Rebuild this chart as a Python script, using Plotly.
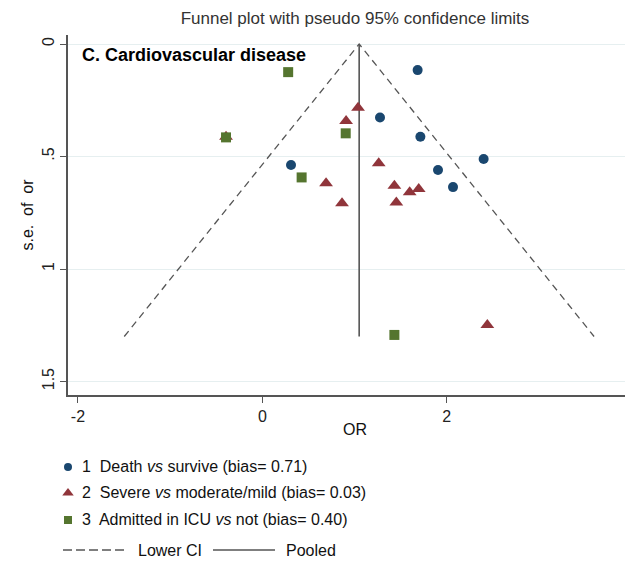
import plotly.graph_objects as go

# ---- data ----
death_or = [1.684, 1.276, 1.714, 2.40, 1.905, 2.068, 0.311]
death_se = [0.116, 0.327, 0.412, 0.511, 0.56, 0.636, 0.538]
severe_or = [1.038, 0.908, 1.262, 0.691, 0.864, 1.432, 1.598, 1.696, 1.453, 2.44, -0.394]
severe_se = [0.283, 0.342, 0.530, 0.619, 0.708, 0.63, 0.659, 0.644, 0.704, 1.249, 0.412]
icu_or = [0.28, 0.904, 0.426, 1.432, -0.394]
icu_se = [0.125, 0.397, 0.593, 1.293, 0.415]
pooled = 1.05
se_max = 1.3
x_ticks = [-2, 0, 2, 4]
x_tick_labels = ["-2", "0", "2", "4"]
y_ticks = [0, 0.5, 1, 1.5]
y_tick_labels = ["0", ".5", "1", "1.5"]
series_labels = ["1  Death <i>vs</i> survive (bias= 0.71)",
                 "2  Severe <i>vs</i> moderate/mild (bias= 0.03)",
                 "3  Admitted in ICU <i>vs</i> not (bias= 0.40)"]
line_labels = ["Lower CI", "Pooled"]

NAVY = "#1a476f"
MAROON = "#90353b"
GREEN = "#55752f"
GREY = "#555555"
FONT = "Liberation Sans Narrow, Arial Narrow, Liberation Sans, Arial"

W, H = 633, 568
OFF = 8                 # page body margin of the browser
TOP = 35 - OFF          # plot top (window px 35)
PH = H - TOP            # paper height (margin t only)


def px_x(p):            # window pixel -> paper x
    return (p - OFF) / W


def px_y(p):            # window pixel -> paper y
    return (H - (p - OFF)) / PH


PX_PER_UNIT = 92.2
X_LEFT = -2.108
X_RIGHT = X_LEFT + (W - (68 - OFF)) / PX_PER_UNIT

fig = go.Figure()

# funnel (pseudo 95% CI)
fig.add_trace(go.Scatter(
    x=[pooled - 1.96 * se_max, pooled, pooled + 1.96 * se_max],
    y=[se_max, 0, se_max],
    mode="lines", line=dict(color=GREY, width=1.3, dash="7px,5px"),
    showlegend=False, hoverinfo="skip"))
fig.add_trace(go.Scatter(
    x=[pooled, pooled], y=[0, se_max], mode="lines",
    line=dict(color=GREY, width=1.6), showlegend=False, hoverinfo="skip"))

styles = [("circle", 10, NAVY), ("triangle-up", 12, MAROON), ("square", 10, GREEN)]
for (xs, ys), (sym, sz, col) in zip(
        [(death_or, death_se), (severe_or, severe_se), (icu_or, icu_se)], styles):
    fig.add_trace(go.Scatter(
        x=xs, y=ys, mode="markers",
        marker=dict(symbol=sym, size=sz, color=col), showlegend=False))

# ---- hand-made legend on a hidden pixel-unit axis pair (window px) ----
legend_rows = [467, 493, 520]
for row, (sym, sz, col), lab in zip(legend_rows, styles, series_labels):
    fig.add_trace(go.Scatter(
        x=[68], y=[row], xaxis="x2", yaxis="y2", mode="markers",
        marker=dict(symbol=sym, size=sz - 2, color=col),
        showlegend=False, hoverinfo="skip"))
    fig.add_annotation(x=80, y=row, xref="x2", yref="y2", xanchor="left",
                       yanchor="middle", text=lab, showarrow=False,
                       font=dict(size=16, color="#111111"))
fig.add_trace(go.Scatter(x=[63, 128], y=[550, 550], xaxis="x2", yaxis="y2",
                         mode="lines", line=dict(color=GREY, width=1.3, dash="9px,4px"),
                         showlegend=False, hoverinfo="skip"))
fig.add_trace(go.Scatter(x=[213, 275], y=[550, 550], xaxis="x2", yaxis="y2",
                         mode="lines", line=dict(color=GREY, width=1.6),
                         showlegend=False, hoverinfo="skip"))
for xpos, lab in zip([136, 284], line_labels):
    fig.add_annotation(x=xpos, y=550, xref="x2", yref="y2", xanchor="left",
                       yanchor="middle", text=lab, showarrow=False,
                       font=dict(size=16, color="#111111"))

# panel label
fig.add_annotation(
    x=-1.98, y=0.05, xref="x", yref="y", xanchor="left", yanchor="middle",
    text="<b>C. Cardiovascular disease</b>", showarrow=False,
    font=dict(family="Liberation Sans, Arial", size=18, color="#000000"))

# x axis title
fig.add_annotation(x=px_x(355), y=px_y(440), xref="paper", yref="paper",
                   text="OR", showarrow=False, font=dict(size=16, color="#111111"))

fig.update_layout(
    width=W, height=H,
    paper_bgcolor="#ffffff", plot_bgcolor="#ffffff",
    margin=dict(l=0, r=0, t=TOP, b=0),
    font=dict(family=FONT, size=15, color="#222222"),
    title=dict(text="Funnel plot with pseudo 95% confidence limits",
               x=(355 - OFF) / W, xanchor="center", y=1 - (18 - OFF) / H,
               yanchor="middle",
               font=dict(family=FONT, size=17, color="#333333")),
    xaxis=dict(domain=[px_x(68), 1], range=[X_LEFT, X_RIGHT], tickvals=x_ticks,
               ticktext=x_tick_labels, ticks="outside",
               ticklen=6, tickcolor=GREY, showgrid=False, zeroline=False,
               showline=True, linecolor=GREY, linewidth=2,
               tickfont=dict(size=16, color="#222222")),
    yaxis=dict(domain=[px_y(395), 1], range=[1.56, -0.04], tickvals=y_ticks,
               ticktext=y_tick_labels,
               ticks="outside", ticklen=6, tickcolor=GREY, tickangle=-90,
               showgrid=True, gridcolor="#e6eff0", gridwidth=1, zeroline=False,
               showline=True, linecolor=GREY, linewidth=2,
               tickfont=dict(size=16, color="#222222"),
               title=dict(text="s.e.  of  or", standoff=2,
                          font=dict(size=16, color="#111111"))),
    xaxis2=dict(domain=[0, 1], range=[OFF, W + OFF], visible=False, anchor="y2"),
    yaxis2=dict(domain=[0, px_y(450)], range=[H + OFF, 450], visible=False,
                anchor="x2"),
    showlegend=False,
)

fig.write_html("out.html")
